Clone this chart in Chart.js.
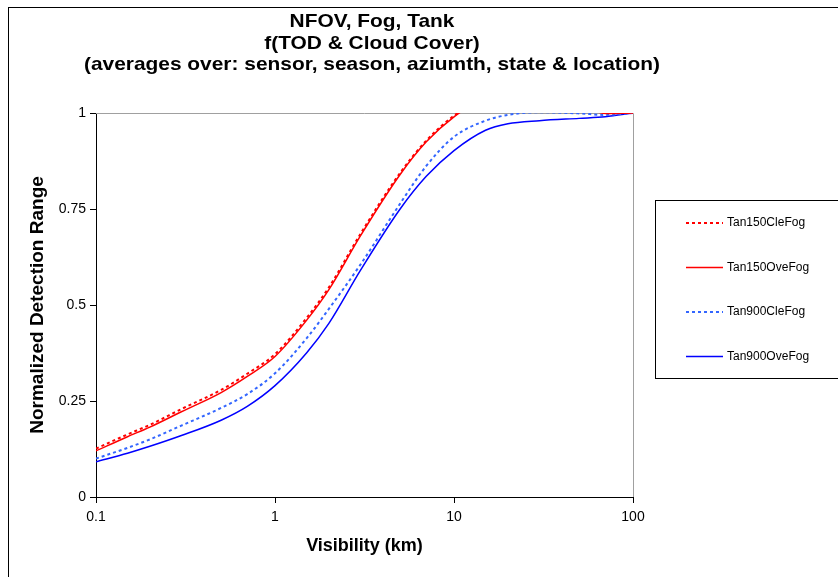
<!DOCTYPE html>
<html>
<head>
<meta charset="utf-8">
<script src="https://cdn.jsdelivr.net/npm/chart.js@4/dist/chart.umd.min.js"></script>
<style>
  html, body { margin: 0; padding: 0; background: #fff; }
  #c { display: block; }
</style>
</head>
<body>
<canvas id="c" width="838" height="577"></canvas>
<script>
const visibility = [0.1, 0.15, 0.2, 0.3, 0.5, 0.7, 1, 1.5, 2, 3, 5, 7, 10, 15, 20, 30, 50, 70, 100]

const tan150Cle = [0.126, 0.163, 0.188, 0.229, 0.279, 0.321, 0.372, 0.466, 0.546, 0.685, 0.844, 0.928, 0.993, 1.04, 1.05, 1.05, 1.03, 1.0, 1.0]
const tan150Ove = [0.12, 0.157, 0.182, 0.222, 0.272, 0.314, 0.366, 0.46, 0.54, 0.68, 0.84, 0.925, 0.99, 1.04, 1.05, 1.05, 1.02, 0.999, 1.0]
const tan900Cle = [0.10, 0.128, 0.15, 0.186, 0.232, 0.268, 0.322, 0.413, 0.49, 0.605, 0.764, 0.862, 0.938, 0.98, 0.995, 1.002, 0.999, 0.995, 1.0]
const tan900Ove = [0.092, 0.114, 0.132, 0.16, 0.2, 0.236, 0.29, 0.375, 0.452, 0.59, 0.75, 0.835, 0.902, 0.955, 0.972, 0.98, 0.986, 0.99, 1.0]

const xTicks = [0.1, 1, 10, 100]
const xTickLabels = ['0.1', '1', '10', '100']
const yTicks = [0, 0.25, 0.5, 0.75, 1]
const yTickLabels = ['0', '0.25', '0.5', '0.75', '1']

const titleLines = ['NFOV, Fog, Tank', 'f(TOD & Cloud Cover)', '(averages over: sensor, season, aziumth, state & location)']

const pts = arr => arr.map((v, i) => ({ x: visibility[i], y: v }))

const series = [
  { label: 'Tan150CleFog', data: pts(tan150Cle), borderColor: '#ff0000', borderWidth: 2, borderDash: [3, 3] },
  { label: 'Tan150OveFog', data: pts(tan150Ove), borderColor: '#ff0000', borderWidth: 1.5, borderDash: [] },
  { label: 'Tan900CleFog', data: pts(tan900Cle), borderColor: '#3366ff', borderWidth: 2, borderDash: [3, 3] },
  { label: 'Tan900OveFog', data: pts(tan900Ove), borderColor: '#0000ff', borderWidth: 1.5, borderDash: [] },
]

const font = 'Arial, "Liberation Sans", sans-serif'

// outer frame, plot frame, title and legend
const extras = {
  id: 'extras',
  beforeDatasetsDraw(chart) {
    const { ctx, chartArea: a } = chart
    ctx.save()
    ctx.strokeStyle = '#a0a0a0'
    ctx.lineWidth = 1
    ctx.beginPath()
    ctx.moveTo(a.left, a.top + 0.5)
    ctx.lineTo(a.right + 0.5, a.top + 0.5)
    ctx.lineTo(a.right + 0.5, a.bottom)
    ctx.stroke()
    ctx.restore()
  },
  afterDraw(chart) {
    const { ctx } = chart
    ctx.save()
    ctx.strokeStyle = '#000'
    ctx.lineWidth = 1
    ctx.strokeRect(8.5, 7.5, 840, 580)

    ctx.fillStyle = '#000'
    ctx.font = 'bold 19px ' + font
    ctx.textAlign = 'center'
    ctx.textBaseline = 'middle'
    titleLines.forEach((t, i) => {
      ctx.save()
      ctx.translate(372, 22 + i * 21.5)
      ctx.scale(1.1, 1)
      ctx.fillText(t, 0, 0)
      ctx.restore()
    })

    ctx.strokeRect(655.5, 200.5, 190, 178)
    ctx.font = '12px ' + font
    ctx.textAlign = 'left'
    series.forEach((s, i) => {
      const y = 223 + i * 44.5
      ctx.strokeStyle = s.borderColor
      ctx.lineWidth = s.borderWidth
      ctx.setLineDash(s.borderDash)
      ctx.beginPath()
      ctx.moveTo(686, y)
      ctx.lineTo(723, y)
      ctx.stroke()
      ctx.setLineDash([])
      ctx.fillText(s.label, 727, y)
    })
    ctx.restore()
  }
}

new Chart(document.getElementById('c'), {
  type: 'line',
  data: {
    datasets: series.map(s => ({
      ...s,
      pointRadius: 0,
      fill: false,
      cubicInterpolationMode: 'monotone',
    }))
  },
  options: {
    responsive: false,
    animation: false,
    layout: { padding: { top: 113, right: 205, left: 0, bottom: 0 } },
    plugins: { legend: { display: false }, title: { display: false }, tooltip: { enabled: false } },
    scales: {
      x: {
        type: 'logarithmic',
        min: 0.1,
        max: 100,
        afterBuildTicks: scale => { scale.ticks = xTicks.map(v => ({ value: v })) },
        afterFit: scale => { scale.height = 80 },
        ticks: {
          color: '#000',
          font: { size: 14, family: font },
          maxRotation: 0,
          autoSkip: false,
          padding: 6,
          callback: (v) => xTickLabels[xTicks.indexOf(v)] ?? ''
        },
        grid: { drawOnChartArea: false, color: '#000', tickLength: 6 },
        border: { color: '#000' },
        title: {
          display: true,
          text: 'Visibility (km)',
          color: '#000',
          font: { size: 18, weight: 'bold', family: font },
          padding: { top: 0, bottom: 20 }
        }
      },
      y: {
        min: 0,
        max: 1,
        afterBuildTicks: scale => { scale.ticks = yTicks.map(v => ({ value: v })) },
        afterFit: scale => { scale.width = 96 },
        ticks: {
          color: '#000',
          font: { size: 14, family: font },
          padding: 4,
          callback: (v) => yTickLabels[yTicks.indexOf(v)] ?? ''
        },
        grid: { drawOnChartArea: false, color: '#000', tickLength: 6 },
        border: { color: '#000' },
        title: {
          display: true,
          text: 'Normalized Detection Range',
          color: '#000',
          font: { size: 19, weight: 'bold', family: font },
          padding: { top: 26, bottom: 0 }
        }
      }
    }
  },
  plugins: [extras]
})
</script>
</body>
</html>
